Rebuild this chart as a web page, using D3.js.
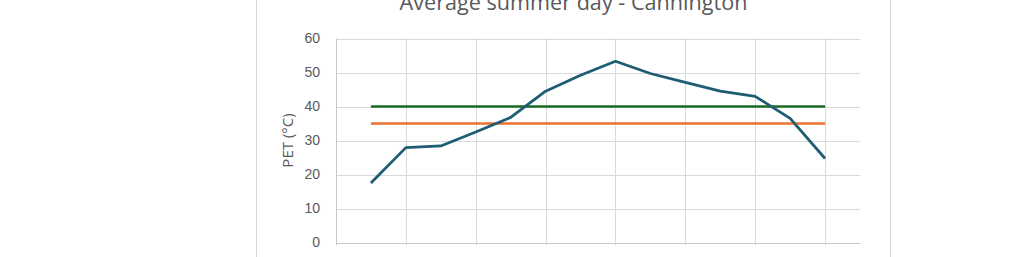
<!DOCTYPE html>
<html>
<head>
<meta charset="utf-8">
<script src="https://cdn.jsdelivr.net/npm/d3@7"></script>
<style>
  body { margin: 0; background: #fff; overflow: hidden; }
  svg { display: block; font-family: "Open Sans", "Liberation Sans", sans-serif; }
</style>
</head>
<body>
<div id="chart"></div>
<script>
// hours of the day (x) and PET values
var hours = [6, 7, 8, 9, 10, 11, 12, 13, 14, 15, 16, 17, 18, 19];
var petValues = [17.5, 27.9, 28.4, 32.5, 36.8, 44.5, 49.2, 53.3, 49.7, 47.1, 44.5, 43.0, 36.5, 24.7];
var greenLimit = [40, 40, 40, 40, 40, 40, 40, 40, 40, 40, 40, 40, 40, 40];
var orangeLimit = [35, 35, 35, 35, 35, 35, 35, 35, 35, 35, 35, 35, 35, 35];
var yTicks = [0, 10, 20, 30, 40, 50, 60];
var xGrid = [5, 7, 9, 11, 13, 15, 17, 19];
var title = "Average summer day - Cannington";
var yTitle = "PET (°C)";

var width = 1020, height = 257;

var svg = d3.select("#chart").append("svg")
	.attr("width", width)
	.attr("height", height);

// chart frame (top and bottom fall outside the photo)
svg.append("rect")
	.attr("x", 256.5).attr("y", -20.5)
	.attr("width", 634).attr("height", 320)
	.attr("fill", "#fff")
	.attr("stroke", "#d9d9d9");

var x = d3.scaleLinear().domain([5, 20]).range([336, 860]);
var y = d3.scaleLinear().domain([0, 60]).range([242.5, 38.5]);

/* gridlines */
svg.append("g").selectAll("line").data(yTicks).enter()
	.append("line")
	.attr("x1", x(5)).attr("x2", x(20))
	.attr("y1", d => Math.round(y(d)) + 0.5)
	.attr("y2", d => Math.round(y(d)) + 0.5)
	.attr("stroke", d => d === 0 ? "#c8c8c8" : "#d9d9d9")
	.attr("stroke-width", 1);

svg.append("g").selectAll("line").data(xGrid).enter()
	.append("line")
	.attr("x1", d => Math.round(x(d)) + 0.5)
	.attr("x2", d => Math.round(x(d)) + 0.5)
	.attr("y1", y(60))
	.attr("y2", y(0) + 3)
	.attr("stroke", d => d === 5 ? "#c8c8c8" : "#d9d9d9")
	.attr("stroke-width", 1);

/* y axis labels */
var yAxis = d3.axisLeft(y).tickValues(yTicks).tickSize(0).tickPadding(16);
var gy = svg.append("g")
	.attr("transform", "translate(" + x(5) + ",0)")
	.call(yAxis);
gy.select(".domain").remove();
gy.selectAll("text")
	.attr("fill", "#595959")
	.style("font-size", "14px");

// y title
svg.append("text")
	.attr("transform", "translate(293," + y(30) + ") rotate(-90)")
	.style("text-anchor", "middle")
	.style("font-size", "15px")
	.attr("fill", "#595959")
	.text(yTitle);

// chart title
var t = svg.append("text")
	.attr("x", 573.5)
	.attr("y", 9.5)
	.style("text-anchor", "middle")
	.style("font-size", "19px")
	.attr("fill", "#595959")
	.text(title);
var tw = t.node().getComputedTextLength();
t.style("font-size", (19 * 348 / tw) + "px");

/* series */
var line = d3.line()
	.x((d, i) => x(hours[i]))
	.y(d => y(d));

svg.append("path")
	.datum(greenLimit)
	.attr("d", line)
	.attr("fill", "none")
	.attr("stroke", "#196b24")
	.attr("stroke-width", 2.5);

svg.append("path")
	.datum(orangeLimit)
	.attr("d", line)
	.attr("fill", "none")
	.attr("stroke", "#e97132")
	.attr("stroke-width", 2.5);

svg.append("path")
	.datum(petValues)
	.attr("d", line)
	.attr("fill", "none")
	.attr("stroke", "#1d5c73")
	.attr("stroke-width", 2.75)
	.attr("stroke-linejoin", "round");
</script>
</body>
</html>
